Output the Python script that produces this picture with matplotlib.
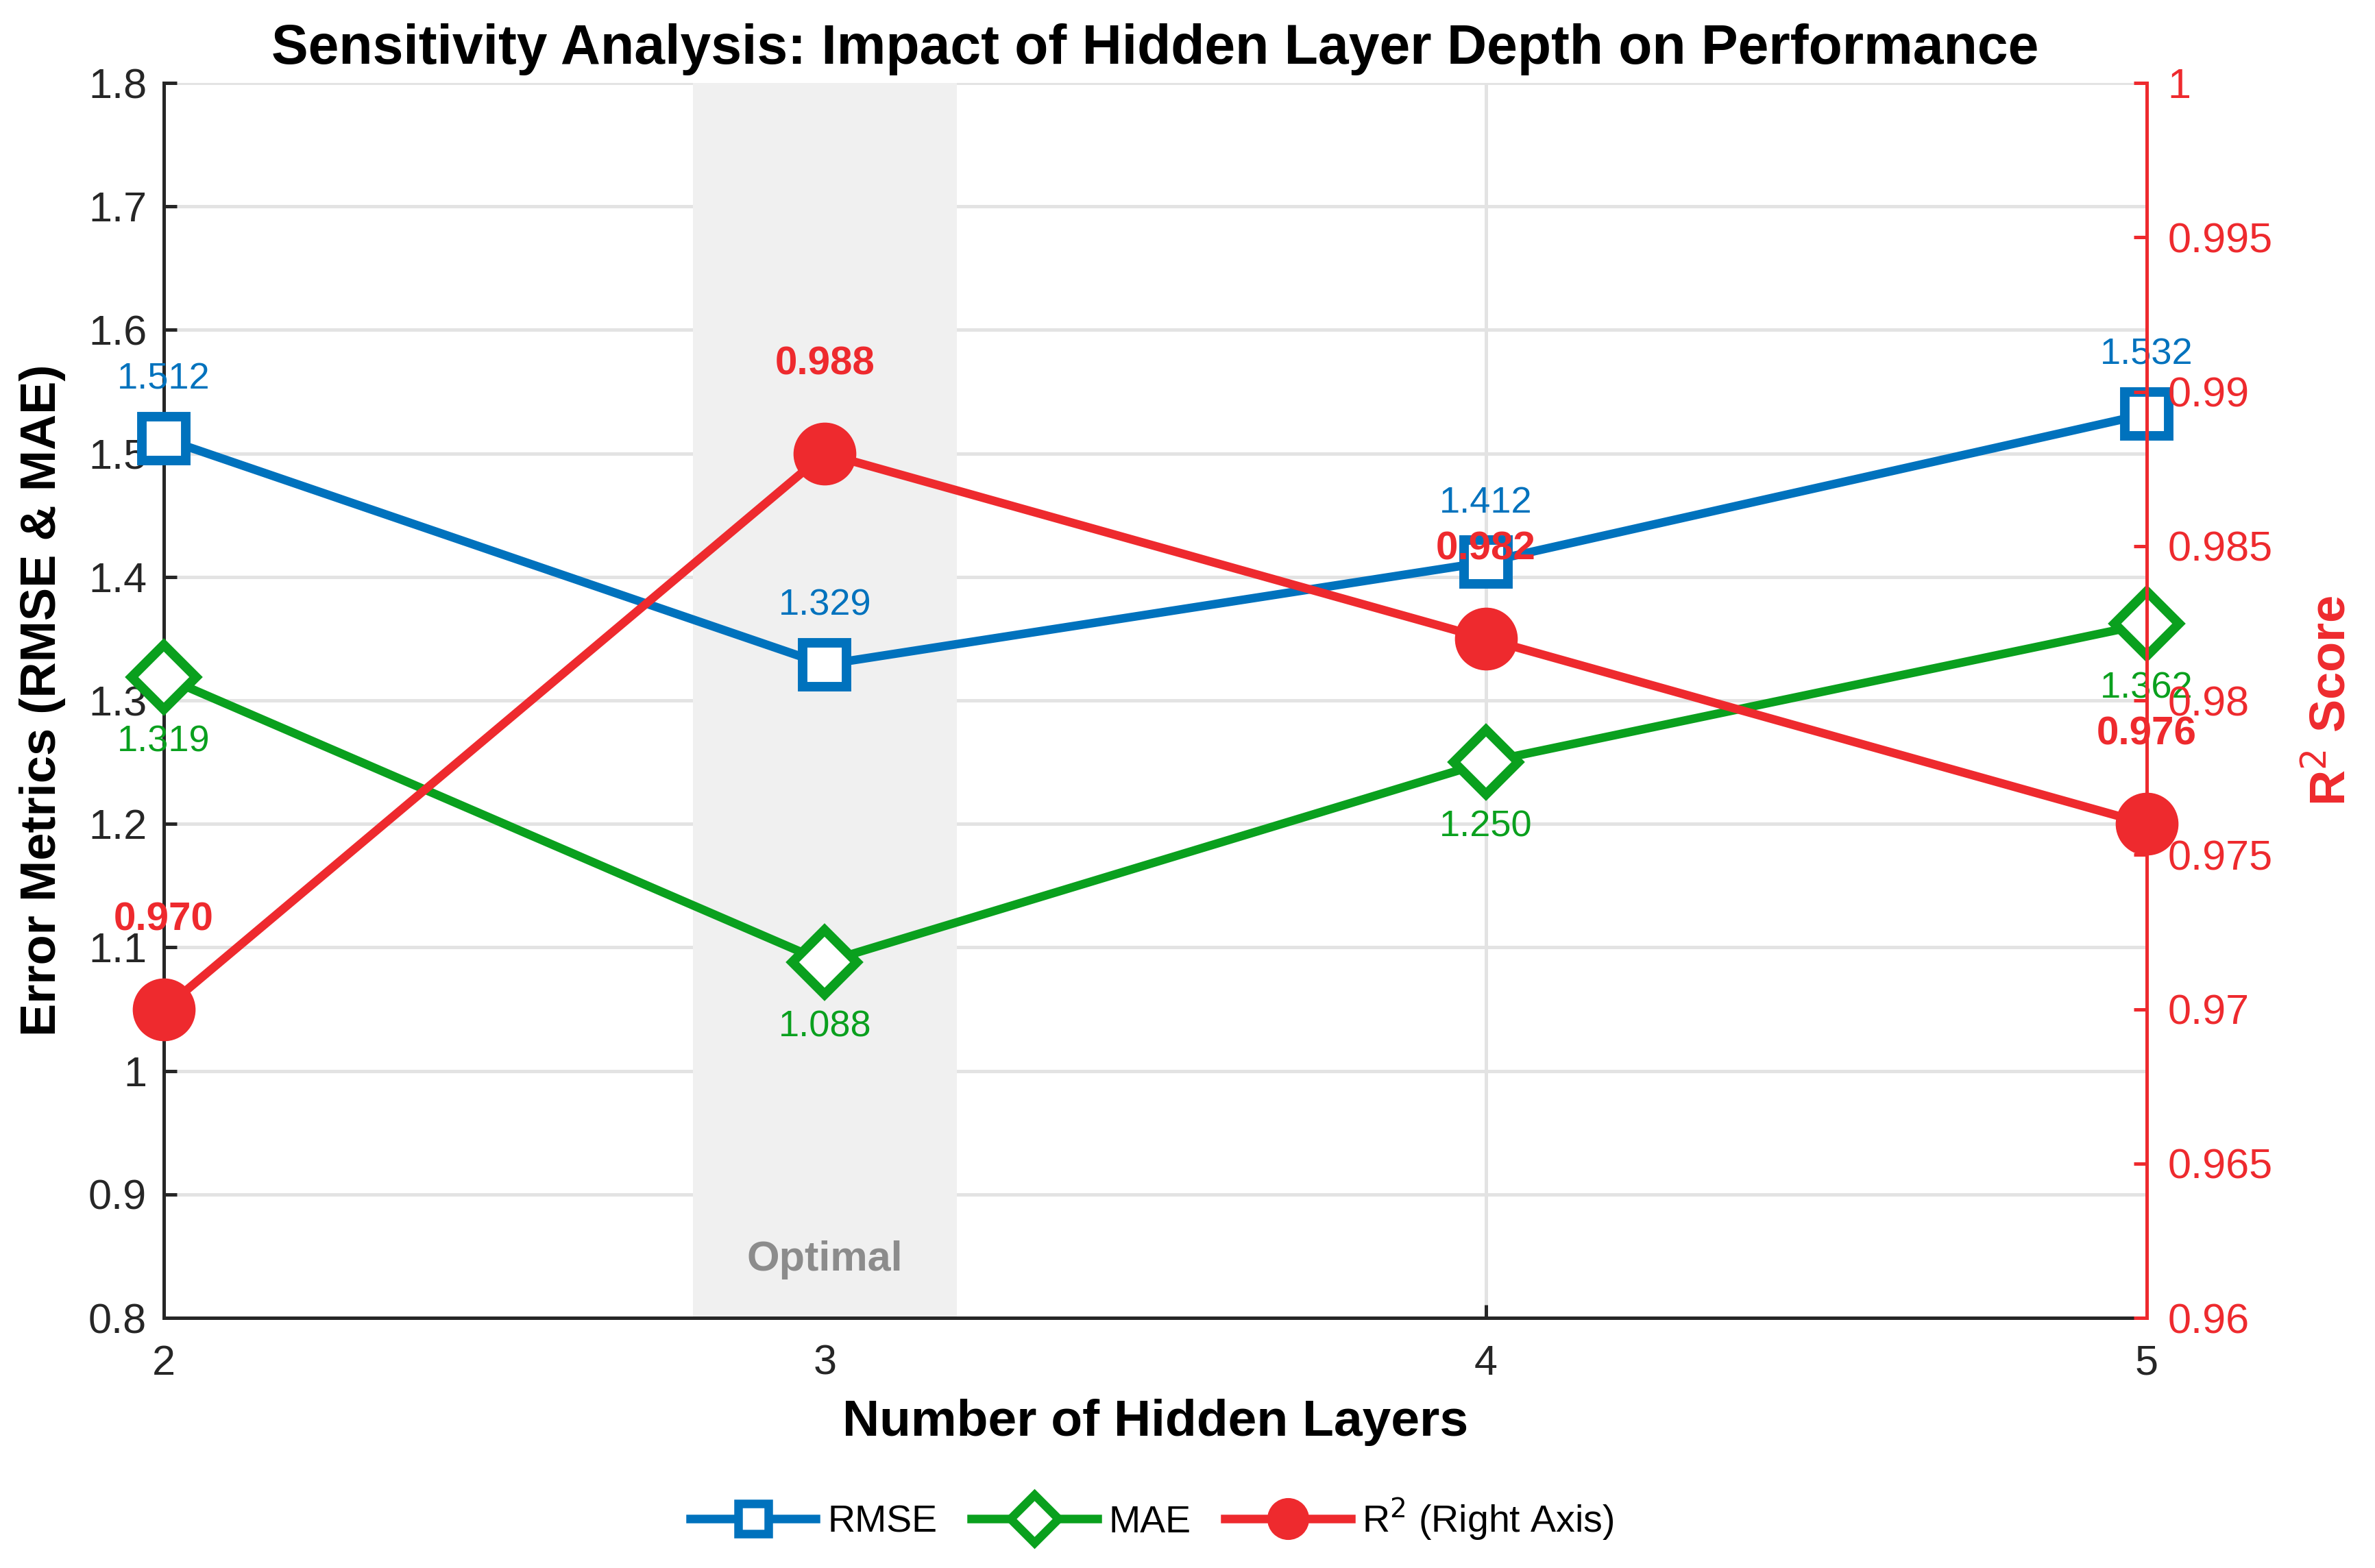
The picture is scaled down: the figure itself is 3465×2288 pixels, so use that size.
import matplotlib

matplotlib.use("Agg")

import matplotlib.pyplot as plt
from matplotlib.lines import Line2D

plt.rcParams["font.family"] = ["Liberation Sans", "DejaVu Sans"]

# data
layers = [2, 3, 4, 5]
rmse = [1.512, 1.329, 1.412, 1.532]
mae = [1.319, 1.088, 1.250, 1.362]
r2 = [0.970, 0.988, 0.982, 0.976]
optimal_layers = 3

BLUE = "#0072BD"
GREEN = "#0AA01E"
RED = "#EE2A2E"
DARK = "#262626"

fig = plt.figure(figsize=(17.33, 11.44), dpi=200)
ax = fig.add_axes([0.069, 0.1595, 0.8346, 0.7876])
ax2 = ax.twinx()

# shaded "optimal" band, above the grid
ax.set_axisbelow(True)
ax.axvspan(optimal_layers - 0.2, optimal_layers + 0.2, color="#f0f0f0", zorder=1, lw=0)
ax.text(optimal_layers, 0.847, "Optimal", ha="center", va="center",
        fontsize=22, fontweight="bold", color="#8c8c8c", zorder=2)

ax.plot(layers, rmse, color=BLUE, lw=4.5, marker="s", ms=23, mfc="white",
        mec=BLUE, mew=5, zorder=3, clip_on=False)
ax.plot(layers, mae, color=GREEN, lw=4.5, marker="D", ms=24, mfc="white",
        mec=GREEN, mew=5, zorder=3, clip_on=False)
ax2.plot(layers, r2, color=RED, lw=4.5, marker="o", ms=32, mfc=RED, mec=RED,
         zorder=3, clip_on=False)

for x, v in zip(layers, rmse):
    ax.annotate(f"{v:.3f}", (x, v), xytext=(0, 31), textcoords="offset points",
                ha="center", va="center", fontsize=19.5, color=BLUE, zorder=4)
for x, v in zip(layers, mae):
    ax.annotate(f"{v:.3f}", (x, v), xytext=(0, -34), textcoords="offset points",
                ha="center", va="center", fontsize=19.5, color=GREEN, zorder=4)
for x, v in zip(layers, r2):
    ax2.annotate(f"{v:.3f}", (x, v), xytext=(0, 47), textcoords="offset points",
                 ha="center", va="center", fontsize=21, fontweight="bold", color=RED)

ax.set_xlim(2, 5)
ax.set_ylim(0.8, 1.8)
ax.set_xticks(layers)
ax.set_yticks([0.8 + 0.1 * i for i in range(11)])
ax.set_yticklabels(["0.8", "0.9", "1", "1.1", "1.2", "1.3", "1.4", "1.5", "1.6", "1.7", "1.8"])
ax2.set_ylim(0.96, 1.0)
ax2.set_yticks([0.96 + 0.005 * i for i in range(9)])
ax2.set_yticklabels(["0.96", "0.965", "0.97", "0.975", "0.98", "0.985", "0.99", "0.995", "1"])

ax.grid(True, color="#e3e3e3", lw=1.8)
for side in ("top", "right"):
    ax.spines[side].set_visible(False)
for side in ("top", "left", "bottom"):
    ax2.spines[side].set_visible(False)
ax.spines["left"].set_color(DARK)
ax.spines["bottom"].set_color(DARK)
ax.spines["left"].set_linewidth(1.8)
ax.spines["bottom"].set_linewidth(1.8)
ax2.spines["right"].set_color(RED)
ax2.spines["right"].set_linewidth(1.8)

ax.tick_params(direction="in", length=7, width=1.8, colors=DARK, labelsize=22,
               labelcolor=DARK)
ax.tick_params(axis="y", pad=9)
ax.tick_params(axis="x", pad=14)
ax2.tick_params(direction="in", length=7, width=1.8, colors=RED, labelsize=22, pad=11)

ax.set_title("Sensitivity Analysis: Impact of Hidden Layer Depth on Performance",
             fontsize=29, fontweight="bold", pad=10)
ax.set_xlabel("Number of Hidden Layers", fontsize=27, fontweight="bold", labelpad=8)
ax.set_ylabel("Error Metrics (RMSE & MAE)", fontsize=26, fontweight="bold", labelpad=12)
ax2.set_ylabel("R$^2$ Score", fontsize=26, fontweight="bold", color=RED, labelpad=18)

handles = [
    Line2D([], [], color=BLUE, lw=4.5, marker="s", ms=16, mfc="white", mec=BLUE, mew=4.5),
    Line2D([], [], color=GREEN, lw=4.5, marker="D", ms=18, mfc="white", mec=GREEN, mew=4.5),
    Line2D([], [], color=RED, lw=4.5, marker="o", ms=21, mfc=RED, mec=RED),
]
fig.legend(handles, ["RMSE", "MAE", "R$^2$ (Right Axis)"], loc="center",
           bbox_to_anchor=(0.485, 0.031), ncol=3, frameon=False, fontsize=20,
           handlelength=3.3, handletextpad=0.3, columnspacing=0.9)

fig.savefig("out.png", dpi=200)
plt.close(fig)
